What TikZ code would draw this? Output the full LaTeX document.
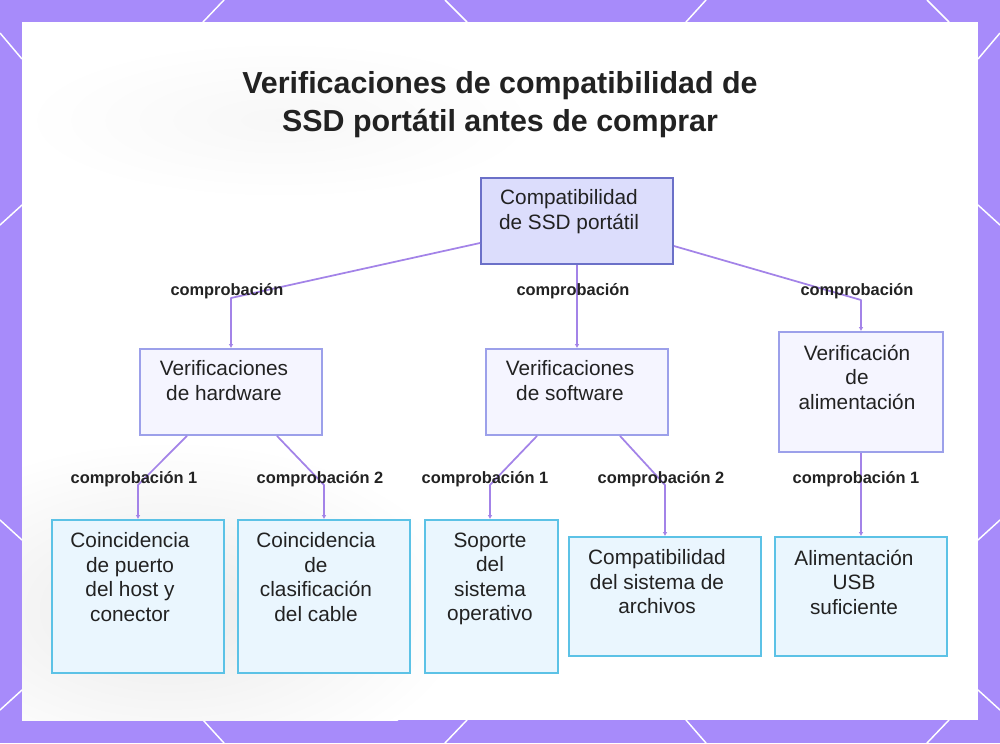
\documentclass[tikz,border=0pt]{standalone}
\usepackage{fontspec}
\setmainfont{Liberation Sans}
\usetikzlibrary{arrows.meta}
\definecolor{frame}{HTML}{A78BFA}
\definecolor{edgec}{HTML}{A383E8}
\definecolor{rootfill}{HTML}{DCDDFC}
\definecolor{rootdraw}{HTML}{6B70C8}
\definecolor{midfill}{HTML}{F5F5FF}
\definecolor{middraw}{HTML}{9CA0EA}
\definecolor{leaffill}{HTML}{EAF6FE}
\definecolor{leafdraw}{HTML}{5CC2E6}
\definecolor{txt}{HTML}{222222}
\tikzset{
  rootbox/.style={draw=rootdraw, fill=rootfill, line width=1.4pt, inner sep=0pt},
  midbox/.style={draw=middraw, fill=midfill, line width=1.4pt, inner sep=0pt},
  leafbox/.style={draw=leafdraw, fill=leaffill, line width=1.4pt, inner sep=0pt},
  boxtext/.style={anchor=north, inner sep=0pt, align=center, text=txt, font=\fontsize{15.6}{18.4}\selectfont},
  lbl/.style={anchor=base, inner sep=0pt, text=txt, font=\fontsize{12.3}{14}\selectfont\bfseries},
  edge/.style={draw=edgec, line width=1.3pt, line join=round, -{Latex[length=3pt,width=3.5pt]}},
  deco/.style={draw=white, line width=1.1pt}
}
\begin{document}
\begin{tikzpicture}[x=0.75pt,y=-0.75pt]
\useasboundingbox (0,0) rectangle (1000,743);
% frame
\fill[frame] (0,0) rectangle (1000,743);
\draw[deco] (224,0)--(203,22) (445,0)--(467,22) (706,0)--(686,22) (927,0)--(949,22);
\draw[deco] (203,720)--(224,743) (467,720)--(445,743) (686,720)--(706,743) (949,720)--(927,743);
\draw[deco] (0,33)--(22,59) (0,225)--(22,205) (0,520)--(22,540) (0,710)--(22,690);
\draw[deco] (1000,33)--(978,59) (1000,225)--(978,205) (1000,520)--(978,540) (1000,710)--(978,690);
% panel
\fill[white] (22,22) rectangle (978,720);
\begin{scope}
\clip (22,22) rectangle (978,720);
\shade[inner color=black!8, outer color=white] (170,610) ellipse (300 and 170);
\shade[inner color=black!3, outer color=white] (280,120) ellipse (260 and 80);
\end{scope}
\draw[white, line width=0.7pt] (925,668) circle (42);

% title
\node[anchor=north, inner sep=0pt, align=center, text=txt, font=\fontsize{22.8}{28.5}\selectfont\bfseries] (title) at (500,71)
  {Verificaciones de compatibilidad de\\SSD portátil antes de comprar};

% boxes
\node[rootbox, minimum width=144pt, minimum height=64.5pt] (root) at (577,221) {};
\node[midbox, minimum width=136.5pt, minimum height=64.5pt] (hw) at (231,392) {};
\node[midbox, minimum width=136.5pt, minimum height=64.5pt] (sw) at (577,392) {};
\node[midbox, minimum width=123pt, minimum height=90pt] (pw) at (861,392) {};
\node[leafbox, minimum width=129pt, minimum height=114.75pt] (l1) at (138,596.5) {};
\node[leafbox, minimum width=129pt, minimum height=114.75pt] (l2) at (324,596.5) {};
\node[leafbox, minimum width=99.75pt, minimum height=114.75pt] (l3) at (491.5,596.5) {};
\node[leafbox, minimum width=144pt, minimum height=89.25pt] (l4) at (665,596.5) {};
\node[leafbox, minimum width=129pt, minimum height=89.25pt] (l5) at (861,596.5) {};

% box texts
\node[boxtext] (roott) at (569,189.5) {Compatibilidad\\de SSD portátil};
\node[boxtext] (hwt) at (224,360.5) {Verificaciones\\de hardware};
\node[boxtext] (swt) at (570,360.5) {Verificaciones\\de software};
\node[boxtext] (pwt) at (857,344.5) {Verificación\\de\\alimentación};
\node[boxtext] (l1t) at (130,532.5) {Coincidencia\\de puerto\\del host y\\conector};
\node[boxtext] (l2t) at (316,532.5) {Coincidencia\\de\\clasificación\\del cable};
\node[boxtext] (l3t) at (490,532.5) {Soporte\\del\\sistema\\operativo};
\node[boxtext] (l4t) at (657,549.5) {Compatibilidad\\del sistema de\\archivos};
\node[boxtext] (l5t) at (854,549.5) {Alimentación\\USB\\suficiente};

% bend coordinates
\coordinate (b1) at (231,298);
\coordinate (b2) at (861,300);
\coordinate (c1) at (138,485);
\coordinate (c2) at (324,485);
\coordinate (c3) at (490,485);
\coordinate (c4) at (665,485);

% connectors
\draw[edge] ([yshift=-16.5pt]root.west) -- (b1) -- (hw.north);
\draw[edge] (root.south) -- (sw.north);
\draw[edge] ([yshift=-18.75pt]root.east) -- (b2) -- (pw.north);
\draw[edge] ([xshift=-33pt]hw.south) -- (c1) -- (l1.north);
\draw[edge] ([xshift=34.5pt]hw.south) -- (c2) -- (l2.north);
\draw[edge] ([xshift=-30pt]sw.south) -- (c3) -- (c3 |- l3.north);
\draw[edge] ([xshift=32.25pt]sw.south) -- (c4) -- (l4.north);
\draw[edge] (pw.south) -- (l5.north);

% labels
\node[lbl] (e1) at (227,295) {comprobación};
\node[lbl] (e2) at (573,295) {comprobación};
\node[lbl] (e3) at (857,295) {comprobación};
\node[lbl] (e4) at (134,483) {comprobación 1};
\node[lbl] (e5) at (320,483) {comprobación 2};
\node[lbl] (e6) at (485,483) {comprobación 1};
\node[lbl] (e7) at (661,483) {comprobación 2};
\node[lbl] (e8) at (856,483) {comprobación 1};
\end{tikzpicture}
\end{document}
